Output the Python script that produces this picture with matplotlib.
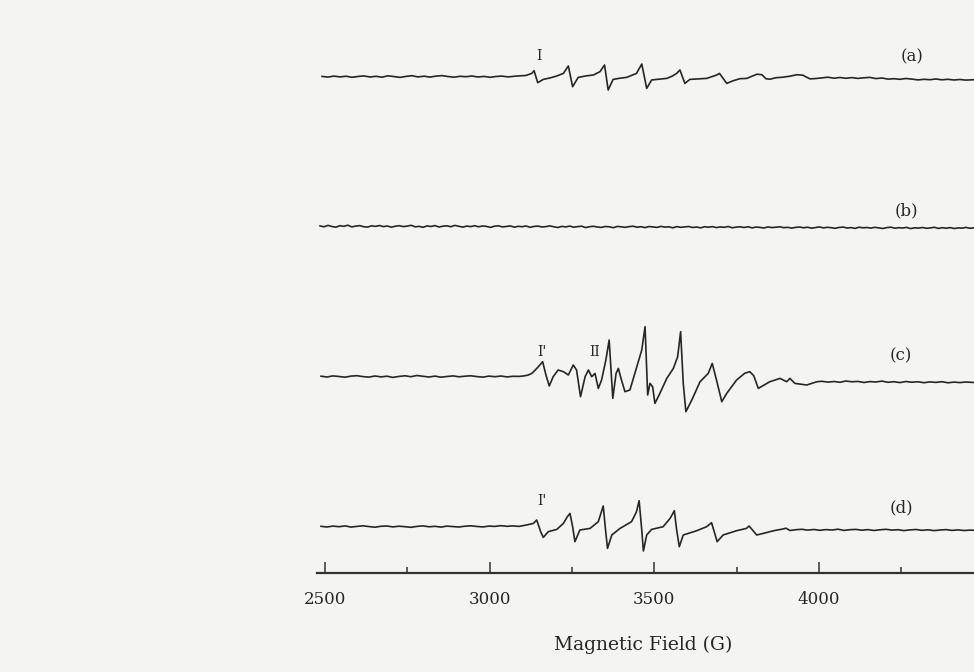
import numpy as np
import matplotlib
matplotlib.use("Agg")
import matplotlib.pyplot as plt

# ---------------- spectra (field in G, signal in arbitrary units) ----------------
a_field = [2491, 2509, 2527, 2546, 2564, 2582, 2600, 2618, 2637, 2655, 2673, 2691, 2710,
           2728, 2746, 2764, 2782, 2801, 2819, 2837, 2855, 2873, 2892, 2910, 2928, 2946,
           2965, 2983, 3001, 3019, 3037, 3056, 3074, 3092, 3110, 3128, 3135, 3146, 3163,
           3184, 3204, 3224, 3239, 3252, 3269, 3293, 3315, 3335, 3349, 3360, 3375, 3396,
           3416, 3446, 3462, 3477, 3492, 3514, 3538, 3554, 3568, 3578, 3593, 3608, 3633,
           3659, 3690, 3698, 3720, 3740, 3760, 3781, 3797, 3812, 3827, 3839, 3851, 3870,
           3888, 3912, 3933, 3951, 3973, 3991, 4009, 4027, 4046, 4064, 4082, 4100, 4118,
           4137, 4155, 4173, 4191, 4210, 4228, 4246, 4264, 4282, 4301, 4319, 4337, 4355,
           4374, 4392, 4410, 4428, 4446, 4471]
a_signal = [0.3, -0.4, 0.6, -0.2, 0.5, -0.6, 0.2, 0.8, -0.3, 0.4, -0.5, 0.9, 0.1,
            -0.7, 0.3, 1.0, -0.2, 0.5, -0.4, 0.6, 1.1, 0.2, -0.5, 0.4, 0.0, 0.7,
            -0.3, 0.3, -0.6, 0.2, 0.6, -0.2, 0.4, 0.9, 1.2, 3.3, 6.0, -6.0, -2.7,
            -1.2, 0.7, 3.3, 10.7, -10.0, -0.7, 0.8, 1.7, 5.0, 11.7, -13.3, -2.7, -1.5,
            -0.7, 3.3, 12.7, -11.7, -3.3, -2.5, -1.7, 0.5, 3.3, 6.7, -6.7, -2.7, -2.2,
            -1.7, 1.7, 3.3, -6.7, -4.0, -2.0, -1.7, 0.5, 2.5, 2.0, -2.0, -2.5, -1.0,
            -0.6, 0.5, 2.0, 1.5, -2.2, -1.8, -1.2, -0.5, -1.5, -0.8, -1.6, -0.9, -1.7,
            -1.1, -0.7, -1.9, -1.3, -2.4, -2.0, -2.6, -1.8, -2.4, -3.2, -2.6, -3.0, -2.3,
            -3.1, -2.6, -3.3, -2.8, -3.4, -3.0]

b_signal = [1.1, 0.2, 1.6, 0.5, -0.2, 1.3, 0.7, 1.8, 0.1, 0.9, 1.4, 0.3, -0.1, 1.2, 0.6, 1.5, 0.4, 1.0, -0.2, 0.8,
            1.3, 0.4, 0.9, 1.7, 0.2, 0.6, -0.3, 1.1, 0.5, 1.4, 0.0, 0.8, 1.2, 0.3, 1.6, 0.7, -0.1, 0.9, 0.4, 1.3,
            0.2, 1.0, 0.6, -0.4, 0.8, 1.2, 0.1, 0.5, 1.1, -0.2, 0.7, 0.3, 1.0, -0.3, 0.6, 0.9, 0.0, 0.4, 1.1, 0.2,
            -0.5, 0.6, 0.1, 0.9, -0.2, 0.4, 0.8, -0.6, 0.3, 0.7, 0.0, -0.4, 0.5, 0.2, -0.7, 0.6, 0.1, -0.3, 0.4, 0.8,
            -0.2, 0.3, -0.6, 0.5, 0.0, -0.4, 0.6, -0.1, 0.2, -0.8, 0.4, -0.3, 0.1, 0.5, -0.5, 0.0, -0.9, 0.3, -0.2, 0.4,
            -0.6, 0.1, -0.3, 0.5, -0.8, -0.1, 0.2, -0.5, 0.3, -0.9, 0.0, -0.4, -1.0, 0.1, -0.6, -0.2, 0.2, -0.7, -0.3, -1.1,
            -0.4, 0.0, -0.8, -0.2, -1.2, -0.5, 0.1, -0.9, -0.3, -0.7, -1.3, -0.4, -0.1, -1.0, -0.6, -1.4, -0.2, -0.8, -0.5, -1.1,
            -0.3, -0.9, -1.5, -0.6, -0.2, -1.2, -0.7, -1.0, -0.4, -1.6, -0.8, -1.1, -0.5, -1.3, -0.9, -0.3, -1.4, -0.7, -1.2, -0.6,
            -1.5, -0.9, -1.1, -0.4, -1.3, -0.8]
b_start, b_stop = 2485, 4471   # sweep range of spectrum (b)

c_field = [2488, 2506, 2524, 2543, 2561, 2579, 2597, 2615, 2634, 2652, 2670, 2688, 2706,
           2725, 2743, 2761, 2779, 2798, 2816, 2834, 2852, 2870, 2889, 2907, 2925, 2943,
           2962, 2980, 2998, 3016, 3034, 3053, 3071, 3089, 3102, 3116, 3128, 3138, 3148,
           3161, 3171, 3181, 3193, 3208, 3224, 3239, 3254, 3264, 3276, 3290, 3300, 3310,
           3320, 3330, 3340, 3353, 3363, 3374, 3384, 3391, 3399, 3411, 3426, 3441, 3462,
           3472, 3480, 3487, 3495, 3502, 3517, 3538, 3558, 3571, 3580, 3588, 3596, 3614,
           3639, 3664, 3676, 3689, 3705, 3720, 3750, 3775, 3790, 3802, 3816, 3851, 3882,
           3902, 3912, 3927, 3963, 3994, 4009, 4027, 4046, 4064, 4082, 4100, 4118, 4137,
           4155, 4173, 4191, 4210, 4228, 4246, 4264, 4282, 4301, 4319, 4337, 4355, 4374,
           4392, 4410, 4428, 4446, 4471]
c_signal = [0.5, -0.3, 0.8, 0.2, -0.5, 0.6, 1.0, 0.1, -0.4, 0.7, -0.2, 0.5, -0.7,
            0.3, 0.9, 0.0, 1.2, 0.4, -0.3, 0.6, -0.5, 0.2, 0.8, -0.1, 0.5, 0.9,
            0.1, -0.4, 0.6, 0.0, 0.7, -0.2, 0.4, 0.3, 0.7, 1.5, 3.3, 6.5, 10.0,
            15.0, 1.7, -9.3, 0.0, 6.7, 5.0, 1.7, 11.7, 6.7, -20.0, 0.0, 6.7, 0.0,
            3.3, -11.7, -3.3, 16.7, 36.7, -21.7, 3.3, 8.3, -1.7, -15.0, -13.3, 3.3, 26.7,
            50.0, -18.3, -6.7, -10.0, -26.7, -16.7, -1.7, 8.3, 20.0, 45.0, -6.7, -35.0, -23.3,
            -5.0, 3.3, 13.3, -3.3, -25.0, -16.7, -3.3, 3.5, 5.0, 1.0, -11.7, -5.0, -1.7,
            -5.0, -1.7, -6.7, -8.3, -5.0, -4.6, -5.4, -4.8, -5.6, -4.3, -5.1, -4.7, -5.8,
            -4.9, -5.3, -4.4, -5.6, -5.0, -5.9, -4.8, -5.5, -5.1, -6.0, -5.2, -5.7, -5.0,
            -6.1, -5.4, -5.9, -5.3, -5.8]

d_field = [2488, 2506, 2524, 2543, 2561, 2579, 2597, 2615, 2634, 2652, 2670, 2688, 2706,
           2725, 2743, 2761, 2779, 2798, 2816, 2834, 2852, 2870, 2889, 2907, 2925, 2943,
           2962, 2980, 2998, 3016, 3034, 3053, 3071, 3089, 3112, 3133, 3143, 3155, 3163,
           3178, 3204, 3224, 3236, 3244, 3252, 3259, 3274, 3305, 3330, 3345, 3352, 3358,
           3371, 3396, 3431, 3446, 3454, 3462, 3467, 3477, 3492, 3527, 3548, 3561, 3568,
           3576, 3588, 3629, 3659, 3674, 3691, 3709, 3750, 3780, 3788, 3811, 3831, 3851,
           3870, 3888, 3900, 3912, 3930, 3948, 3966, 3985, 4003, 4021, 4040, 4058, 4076,
           4094, 4112, 4131, 4149, 4167, 4185, 4204, 4222, 4240, 4258, 4276, 4295, 4313,
           4331, 4349, 4368, 4386, 4404, 4422, 4441, 4459, 4471]
d_signal = [0.4, -0.3, 0.6, 0.0, 0.8, -0.4, 0.3, 0.9, 0.1, -0.5, 0.4, 0.7, -0.2,
            0.5, 0.0, -0.6, 0.3, 0.8, -0.1, 0.4, -0.4, 0.6, 0.1, -0.3, 0.5, 0.9,
            0.2, -0.2, 0.6, 0.3, 1.0, 0.4, 0.8, 0.3, 1.7, 3.3, 6.7, -5.0, -10.7,
            -5.0, -2.7, 3.3, 10.0, 13.3, 0.0, -15.0, -3.3, -1.7, 5.0, 20.7, -3.3, -21.7,
            -8.3, -1.7, 5.0, 15.0, 26.0, -3.3, -24.3, -8.3, -2.7, 0.0, 8.3, 16.0, -3.3,
            -20.0, -8.3, -4.0, 0.0, 4.0, -15.0, -8.3, -4.0, -1.7, 0.7, -8.3, -6.7, -5.0,
            -3.5, -2.5, -1.5, -3.8, -3.0, -2.6, -3.4, -2.8, -3.6, -2.9, -3.3, -2.5, -3.7,
            -3.0, -2.7, -3.5, -2.9, -3.8, -3.1, -2.6, -3.4, -3.0, -3.9, -3.2, -2.8, -3.6,
            -3.1, -3.9, -3.3, -2.9, -3.7, -3.2, -3.8, -3.4, -3.6]

panel_names = ["(a)", "(b)", "(c)", "(d)"]
tick_values = [2500, 3000, 3500, 4000]
minor_values = [2750, 3250, 3750, 4250]
xlabel_text = "Magnetic Field (G)"

# ---------------- layout ----------------
BG = "#f4f4f2"
INK = "#262626"
offsets = [595.3, 445.0, 295.3, 145.3]          # vertical stacking of the four traces
axis_level = 99.0
name_pos = [(4282, 615), (4267, 461), (4250, 316), (4250, 164)]
marks = [("I", 3150, 615.5), ("I'", 3160, 319.5), ("II", 3318, 319.5), ("I'", 3158, 171)]

plt.rcParams["font.family"] = ["DejaVu Serif"]

fig = plt.figure(figsize=(9.74, 6.72), dpi=100, facecolor=BG)
ax = fig.add_axes([0, 0, 1, 1], facecolor=BG)
ax.set_xlim(1513, 4471)
ax.set_ylim(0, 672)

b_field = np.linspace(b_start, b_stop, len(b_signal))
traces = [(a_field, a_signal), (b_field, b_signal), (c_field, c_signal), (d_field, d_signal)]
for (fx, sy), off in zip(traces, offsets):
    ax.plot(fx, np.asarray(sy) + off, color=INK, lw=1.2, solid_joinstyle="round")

for name, (x, y) in zip(panel_names, name_pos):
    ax.text(x, y, name, fontsize=12, color=INK, ha="center", va="center")
for txt, x, y in marks:
    ax.text(x, y, txt, fontsize=10, color=INK, ha="center", va="center")

# field axis drawn as the bottom spine
for s in ("top", "left", "right"):
    ax.spines[s].set_visible(False)
sp = ax.spines["bottom"]
sp.set_position(("data", axis_level))
sp.set_bounds(2475, 4471)
sp.set_color("#333333")
sp.set_linewidth(1.6)
ax.set_yticks([])
ax.set_xticks(tick_values)
ax.set_xticklabels([str(v) for v in tick_values])
ax.set_xticks(minor_values, minor=True)
ax.tick_params(axis="x", which="major", direction="in", length=8, width=1.1,
               color="#333333", labelsize=12, labelcolor=INK, pad=13)
ax.tick_params(axis="x", which="minor", direction="in", length=4.3, width=1.1,
               color="#333333")

ax.set_xlabel(xlabel_text, fontsize=13.5, color=INK)
ax.xaxis.set_label_coords(643 / 974, 27 / 672)
ax.xaxis.label.set_va("center")

fig.savefig("out.png", dpi=100, facecolor=BG)
